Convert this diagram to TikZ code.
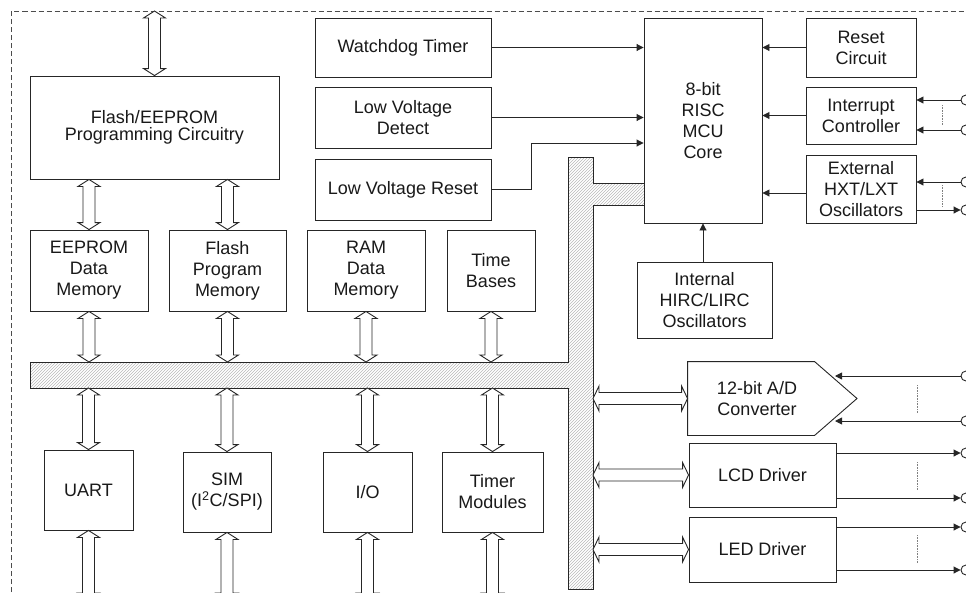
\documentclass[tikz,border=0pt]{standalone}
\usepackage{fontspec}
\setmainfont{Liberation Sans}
\usetikzlibrary{arrows.meta,calc,patterns}
\newcommand\vdbl[2]{\path[dblarr] let \p1=#1, \p2=#2 in
  (\x1,\y1) -- (\x1+11pt,\y1-7pt) -- (\x1+6pt,\y1-7pt) -- (\x1+6pt,\y2+7pt) -- (\x1+11pt,\y2+7pt) -- (\x1,\y2)
  -- (\x1-11pt,\y2+7pt) -- (\x1-6pt,\y2+7pt) -- (\x1-6pt,\y1-7pt) -- (\x1-11pt,\y1-7pt) -- cycle;}
\newcommand\hdbl[2]{\path[dblarr] let \p1=#1, \p2=#2 in
  (\x1,\y1) -- (\x1+6pt,\y1+12.5pt) -- (\x1+6pt,\y1+6pt) -- (\x2-6pt,\y1+6pt) -- (\x2-6pt,\y1+12.5pt) -- (\x2,\y1)
  -- (\x2-6pt,\y1-12.5pt) -- (\x2-6pt,\y1-6pt) -- (\x1+6pt,\y1-6pt) -- (\x1+6pt,\y1-12.5pt) -- cycle;}
\begin{document}
\begin{tikzpicture}[x=1pt,y=-1pt,
  box/.style={draw=black!85, line width=0.9pt, fill=white, inner sep=0pt, align=center,
    font=\fontsize{18}{21}\selectfont, text=black!90},
  sz/.style 2 args={minimum width=#1, minimum height=#2},
  sarr/.style={draw=black!85, line width=0.9pt, -{Triangle[length=7pt,width=7pt]}},
  dblarr/.style={draw=black!85, line width=0.9pt, fill=white, line join=miter},
  bus/.style={draw=black!85, line width=0.9pt, pattern=north east lines, pattern color=black!28},
  pinc/.style={circle, draw=black!85, line width=0.9pt, fill=white, minimum size=10pt, inner sep=0pt},
  dots/.style={draw=black!50, line width=0.6pt, densely dotted},
  border/.style={draw=black!70, line width=0.8pt, dash pattern=on 5pt off 3pt}]
\useasboundingbox (0,0) rectangle (966,592);
\clip (0,0) rectangle (966,592);

% outer dashed border
\draw[border] (11.5,600) -- (11.5,11) -- (975,11);

% bus
\draw[bus] (30,362) -- (568,362) -- (568,157) -- (593,157) -- (593,183) -- (644,183) -- (644,205)
  -- (593,205) -- (593,589) -- (568,589) -- (568,388) -- (30,388) -- cycle;
\coordinate (busT) at (0,362);
\coordinate (busB) at (0,388);
\coordinate (busR) at (593,0);
\coordinate (top) at (0,11);
\coordinate (bot) at (0,600);

% boxes
\node[box, sz={249}{103}, font=\fontsize{18}{17}\selectfont] (flash) at (154.5,127.5) {Flash/EEPROM\\Programming Circuitry};
\node[box, sz={176}{59}] (wdt) at (403,47.5) {Watchdog Timer};
\node[box, sz={176}{61}] (lvd) at (403,117.5) {Low Voltage\\Detect};
\node[box, sz={176}{61}] (lvr) at (403,189.5) {Low Voltage Reset};
\node[box, sz={118}{205}] (mcu) at (703,120.5) {8-bit\\RISC\\MCU\\Core};
\node[box, sz={110}{59}] (rst) at (861,47.5) {Reset\\Circuit};
\node[box, sz={110}{57}] (intc) at (861,115.5) {Interrupt\\Controller};
\node[box, sz={110}{68}] (hxt) at (861,189) {External\\HXT/LXT\\Oscillators};
\node[box, sz={135}{76}] (hirc) at (704.5,300) {Internal\\HIRC/LIRC\\Oscillators};
\node[box, sz={118}{81}] (eeprom) at (89,270.5) {EEPROM\\Data\\Memory};
\node[box, sz={117}{81}] (fpm) at (227.5,270.5) {Flash\\Program\\Memory};
\node[box, sz={118}{81}] (ram) at (366,270.5) {RAM\\Data\\Memory};
\node[box, sz={88}{81}] (tb) at (491,270.5) {Time\\Bases};
\node[box, sz={89}{80}] (uart) at (88.5,490) {UART};
\node[box, sz={88}{80}] (sim) at (227,492) {SIM\\(I\textsuperscript{2}C/SPI)};
\node[box, sz={89}{80}] (io) at (367.5,492) {I/O};
\node[box, sz={101}{80}] (tmr) at (492.5,492) {Timer\\Modules};
\node[box, sz={138}{73}, draw=none] (adc) at (757,398.5) {12-bit A/D\\Converter};
\coordinate (adctip) at (857,398.5);
\draw[draw=black!85, line width=0.9pt, line join=miter] (adc.north west) -- ([xshift=127pt]adc.north west)
  -- (adctip) -- ([xshift=127pt]adc.south west) -- (adc.south west) -- cycle;
\node[box, sz={147}{64}] (lcd) at (762.5,475) {LCD Driver};
\node[box, sz={147}{65}] (led) at (762.5,549.5) {LED Driver};

% wide arrows
\vdbl{(flash.north |- top)}{(flash.north)}
\vdbl{(flash.south -| eeprom.north)}{(eeprom.north)}
\vdbl{(flash.south -| fpm.north)}{(fpm.north)}
\vdbl{(eeprom.south)}{(eeprom.south |- busT)}
\vdbl{(fpm.south)}{(fpm.south |- busT)}
\vdbl{(ram.south)}{(ram.south |- busT)}
\vdbl{(tb.south)}{(tb.south |- busT)}
\vdbl{(uart.north |- busB)}{(uart.north)}
\vdbl{(sim.north |- busB)}{(sim.north)}
\vdbl{(io.north |- busB)}{(io.north)}
\vdbl{(tmr.north |- busB)}{(tmr.north)}
\vdbl{(uart.south)}{(uart.south |- bot)}
\vdbl{(sim.south)}{(sim.south |- bot)}
\vdbl{(io.south)}{(io.south |- bot)}
\vdbl{(tmr.south)}{(tmr.south |- bot)}
\hdbl{(busR |- adc.west)}{(adc.west)}
\hdbl{(busR |- lcd.west)}{(lcd.west)}
\hdbl{(busR |- led.west)}{(led.west)}

% signal arrows into core
\coordinate (lvrk) at (531,143);
\draw[sarr] (wdt.east) -- (wdt.east -| mcu.west);
\draw[sarr] (lvd.east) -- (lvd.east -| mcu.west);
\draw[sarr] (lvr.east) -| (lvrk) -- (lvrk -| mcu.west);
\draw[sarr] (rst.west) -- (rst.west -| mcu.east);
\draw[sarr] (intc.west) -- (intc.west -| mcu.east);
\draw[sarr] ([yshift=-4pt]hxt.west) -- ([yshift=-4pt]hxt.west -| mcu.east);
\draw[sarr] (hirc.north -| mcu.south) -- (mcu.south);

% pins
\node[pinc] (pi1) at (966,100) {};
\node[pinc] (pi2) at (966,130) {};
\node[pinc] (ph1) at (966,182) {};
\node[pinc] (ph2) at (966,210) {};
\node[pinc] (pa1) at (966,376) {};
\node[pinc] (pa2) at (966,421) {};
\node[pinc] (pl1) at (966,453) {};
\node[pinc] (pl2) at (966,498) {};
\node[pinc] (pe1) at (966,527) {};
\node[pinc] (pe2) at (966,570) {};
\coordinate (ain1) at (835,376);
\coordinate (ain2) at (835,421);

\draw[sarr] (pi1.west) -- (pi1.west -| intc.east);
\draw[sarr] (pi2.west) -- (pi2.west -| intc.east);
\draw[sarr] (ph1.west) -- (ph1.west -| hxt.east);
\draw[sarr] (ph2.west -| hxt.east) -- (ph2.west);
\draw[sarr] (pa1.west) -- (ain1);
\draw[sarr] (pa2.west) -- (ain2);
\draw[sarr] (pl1.west -| lcd.east) -- (pl1.west);
\draw[sarr] (pl2.west -| lcd.east) -- (pl2.west);
\draw[sarr] (pe1.west -| led.east) -- (pe1.west);
\draw[sarr] (pe2.west -| led.east) -- (pe2.west);

% dotted continuation marks
\draw[dots] (942,105) -- (942,125);
\draw[dots] (942,185) -- (942,207);
\draw[dots] (917,385) -- (917,413);
\draw[dots] (917,462) -- (917,490);
\draw[dots] (917,535) -- (917,563);
\end{tikzpicture}
\end{document}
